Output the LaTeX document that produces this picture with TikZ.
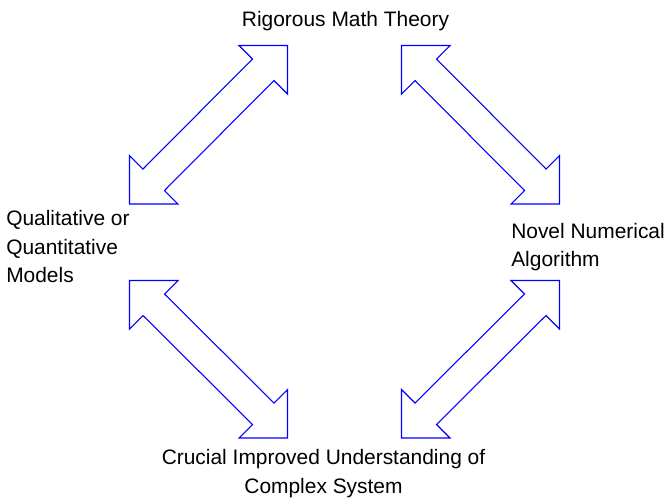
\documentclass[tikz,border=0pt]{standalone}
\usepackage{fontspec}
\setmainfont{Liberation Sans}
\begin{document}
\begin{tikzpicture}[x=0.75pt,y=-0.75pt,
  lbl/.style={font=\fontsize{15.7}{21.3}\selectfont, inner sep=0pt, text=black},
  dblarrow/.style={draw=blue, line width=0.8pt, line join=miter, fill=white}]
\useasboundingbox (0,0) rectangle (671,497);

% labels
\node[lbl, anchor=base] (theory) at (345.5,26) {Rigorous Math Theory};
\node[lbl, anchor=base west, align=left] (models) at (6,282.7) {Qualitative or\\Quantitative\\Models};
\node[lbl, anchor=base west, align=left] (algo) at (511,266.7) {Novel Numerical\\Algorithm};
\node[lbl, anchor=base, align=center] (system) at (323.5,493.3) {Crucial Improved Understanding of\\Complex System};

% double arrows
\draw[dblarrow] (287.5,45.5) -- (287.5,94) -- (274,80.5) -- (164.5,190.5) -- (178,204) -- (129.5,204) -- (129.5,155.5) -- (143,169) -- (252.5,59) -- (239,45.5) -- cycle;
\draw[dblarrow] (401.5,45.5) -- (450,45.5) -- (436.5,59) -- (546,169) -- (559.5,155.5) -- (559.5,204) -- (511,204) -- (524.5,190.5) -- (415,80.5) -- (401.5,94) -- cycle;
\draw[dblarrow] (129.5,280.5) -- (178,280.5) -- (164.5,294) -- (274,403) -- (287.5,389.5) -- (287.5,438) -- (239,438) -- (252.5,424.5) -- (143,315.5) -- (129.5,329) -- cycle;
\draw[dblarrow] (559.5,280.5) -- (559.5,329) -- (546,315.5) -- (436.5,424.5) -- (450,438) -- (401.5,438) -- (401.5,389.5) -- (415,403) -- (524.5,294) -- (511,280.5) -- cycle;
\end{tikzpicture}
\end{document}
